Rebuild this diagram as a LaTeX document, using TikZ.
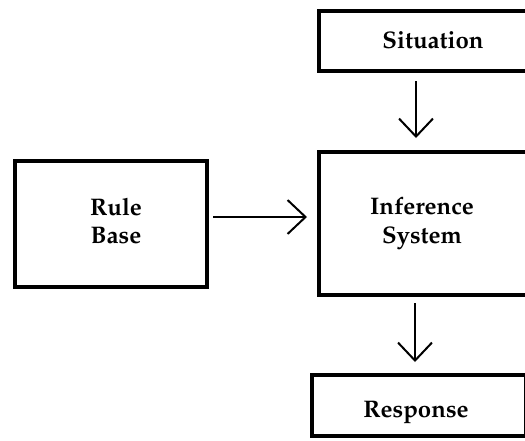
\documentclass[tikz,border=0pt]{standalone}
\usepackage[T1]{fontenc}
\usepackage{mathpazo}
\usetikzlibrary{arrows.meta}

\tikzset{
  block/.style={draw=black, line width=4pt, rectangle, anchor=north west,
                inner sep=0pt, outer sep=0pt, fill=white},
  label text/.style={font=\fontsize{24}{29}\selectfont\bfseries,
                     align=center, inner sep=0pt},
  flow/.style={line width=2pt,
               -{Straight Barb[length=18pt,width=34pt]}}
}

\begin{document}
\begin{tikzpicture}[x=1pt, y=-1pt]
  \clip (0,0) rectangle (525,440);
  \fill[white] (0,0) rectangle (525,440);

  % boxes
  \node[block, minimum width=228pt, minimum height=60pt]  (sit)  at (319,11)    {};
  \node[block, minimum width=228pt, minimum height=143pt] (inf)  at (319,152)   {};
  \node[block, minimum width=214.5pt, minimum height=61pt] (resp) at (311.5,375) {};
  \node[block, minimum width=192pt, minimum height=126pt] (rule) at (15,161)    {};

  % box texts
  \node[label text, anchor=base] (sitT)  at (433,48)  {Situation};
  \node[label text, anchor=base] (infT1) at (422,214) {Inference};
  \node[label text, anchor=base] (infT2) at (422,243) {System};
  \node[label text, anchor=base] (ruleT1) at (116,215) {Rule};
  \node[label text, anchor=base] (ruleT2) at (116,243) {Base};
  \node[label text, anchor=base] (respT) at (416,417) {Response};

  % connectors
  \draw[flow] ([shift={(6,-7)}]rule.east) -- ([shift={(-12,-6.5)}]inf.west);
  \draw[flow] ([shift={(-17,10)}]sit.south) -- ([shift={(-17,-14)}]inf.north);
  \draw[flow] ([shift={(-18,8)}]inf.south) -- ([shift={(-3.75,-13)}]resp.north);
\end{tikzpicture}
\end{document}
